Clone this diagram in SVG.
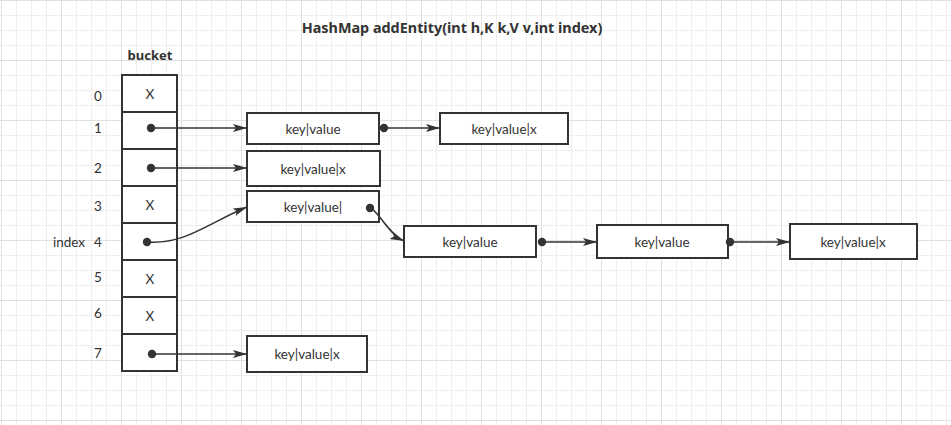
<svg xmlns="http://www.w3.org/2000/svg" width="951" height="425" viewBox="0 0 951 425">
<defs>
<pattern id="minor" x="1" y="0" width="15" height="15" patternUnits="userSpaceOnUse">
<rect x="0" y="0" width="1" height="15" fill="#eeeeee"/>
<rect x="0" y="0" width="15" height="1" fill="#eeeeee"/>
</pattern>
<pattern id="major" x="1" y="0" width="60" height="60" patternUnits="userSpaceOnUse">
<rect x="0" y="0" width="1" height="60" fill="#e0e0e0"/>
<rect x="0" y="0" width="60" height="1" fill="#e0e0e0"/>
</pattern>
<marker id="arr" markerUnits="userSpaceOnUse" markerWidth="16" markerHeight="10" refX="14" refY="4" orient="auto" viewBox="0 0 16 10">
<path d="M0,0 L14,4 L0,8 L3,4 Z" fill="#333333"/>
</marker>
<style>
.t{font-family:Lato,"Noto Sans",sans-serif;font-size:13.5px;fill:#333333;text-anchor:middle;dominant-baseline:central}
.b{font-family:"Noto Sans","Open Sans",sans-serif;font-weight:bold;font-size:13px}
.box{fill:#ffffff;stroke:#333333;stroke-width:2}
.cell{fill:#ffffff;stroke:#333333;stroke-width:2}
.edge{fill:none;stroke:#333333;stroke-width:1.5;marker-end:url(#arr)}
.dot{fill:#333333}
</style>
</defs>
<rect width="951" height="425" fill="#ffffff"/>
<rect width="951" height="425" fill="url(#minor)"/>
<rect width="951" height="425" fill="url(#major)"/>

<text class="t b" x="452" y="27" style="font-size:14.4px">HashMap addEntity(int h,K k,V v,int index)</text>
<text class="t b" x="150" y="55">bucket</text>

<g id="labels">
<text class="t" x="98" y="96">0</text>
<text class="t" x="98" y="128">1</text>
<text class="t" x="98" y="168">2</text>
<text class="t" x="98" y="206">3</text>
<text class="t" x="98" y="242">4</text>
<text class="t" x="69" y="242">index</text>
<text class="t" x="98" y="277">5</text>
<text class="t" x="98" y="313">6</text>
<text class="t" x="98" y="353">7</text>
</g>

<g id="bucket">
<rect class="cell" x="122" y="75" width="55" height="37"/>
<rect class="cell" x="122" y="112" width="55" height="37"/>
<rect class="cell" x="122" y="149" width="55" height="37"/>
<rect class="cell" x="122" y="186" width="55" height="37"/>
<rect class="cell" x="122" y="223" width="55" height="37"/>
<rect class="cell" x="122" y="260" width="55" height="37"/>
<rect class="cell" x="122" y="297" width="55" height="37"/>
<rect class="cell" x="122" y="334" width="55" height="37"/>
<text class="t" x="150" y="94">X</text>
<text class="t" x="150" y="205">X</text>
<text class="t" x="150" y="279">X</text>
<text class="t" x="150" y="316">X</text>
</g>

<g id="n1"><rect class="box" x="247" y="113" width="132" height="31"/><text class="t" x="313" y="128.5">key|value</text></g>
<g id="n1b"><rect class="box" x="440" y="113" width="128" height="31"/><text class="t" x="504" y="128.5">key|value|x</text></g>
<g id="n2"><rect class="box" x="247" y="151" width="133" height="35"/><text class="t" x="313" y="168.5">key|value|x</text></g>
<g id="n3"><rect class="box" x="247" y="191" width="132" height="31"/><text class="t" x="313" y="206.5">key|value|</text></g>
<g id="n4"><rect class="box" x="404" y="226" width="132" height="31"/><text class="t" x="470" y="242">key|value</text></g>
<g id="n5"><rect class="box" x="597" y="225" width="131" height="33"/><text class="t" x="662" y="242">key|value</text></g>
<g id="n6"><rect class="box" x="790" y="224" width="127" height="35"/><text class="t" x="853" y="242">key|value|x</text></g>
<g id="n7"><rect class="box" x="247" y="336" width="120" height="36"/><text class="t" x="307" y="354">key|value|x</text></g>

<g id="connectors">
<circle class="dot" cx="151" cy="128" r="4.2"/>
<path class="edge" d="M151,128 H247"/>
<circle class="dot" cx="151" cy="168" r="4.2"/>
<path class="edge" d="M151,168 H247"/>
<circle class="dot" cx="147" cy="242" r="4.2"/>
<path class="edge" d="M147,242 C185,245 210,222 247,207"/>
<circle class="dot" cx="152" cy="354" r="4.2"/>
<path class="edge" d="M152,354 H247"/>
<circle class="dot" cx="384" cy="128" r="4.2"/>
<path class="edge" d="M384,128 H440"/>
<circle class="dot" cx="370" cy="208" r="4.2"/>
<path class="edge" d="M370,208 C378,210 388,234 404,241"/>
<circle class="dot" cx="542" cy="242" r="4.2"/>
<path class="edge" d="M542,242 H597"/>
<circle class="dot" cx="730" cy="242" r="4.2"/>
<path class="edge" d="M730,242 H790"/>
</g>
</svg>
